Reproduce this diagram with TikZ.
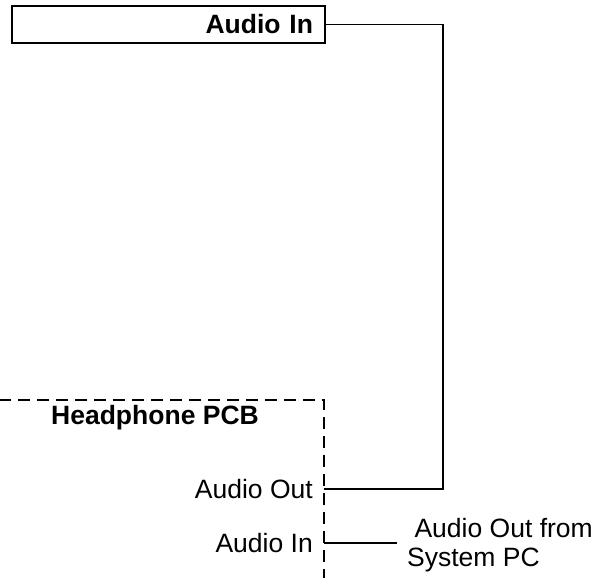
\documentclass[tikz,border=0pt]{standalone}
\usepackage{fontspec}
\setmainfont{Liberation Sans}
\usetikzlibrary{positioning}
\tikzset{
  wire/.style={line width=1.5pt},
  pcbedge/.style={line width=1.5pt, dash pattern=on 12pt off 7pt},
  boldtext/.style={font=\fontsize{26.5}{29}\selectfont\bfseries},
  blockbox/.style={draw, wire, boldtext, inner xsep=12pt, align=right},
  portlabel/.style={anchor=east, inner xsep=11pt, inner ysep=0pt},
}

\begin{document}
\begin{tikzpicture}[x=1pt, y=-1pt, font=\fontsize{26.5}{29}\selectfont]
  \useasboundingbox (0,0) rectangle (613,578);
  \node[blockbox, text width=289pt, minimum width=313pt, minimum height=37pt] (topin) at (168.5,24.5) {Audio In};
  % headphone board, cut off at the page edges
  \draw[pcbedge] (-20,400) -- (324,400) -- (324,600);
  \node[boldtext] (pcb) at (155,417.5) {Headphone PCB};
  \node[portlabel] (aout) at (324,489) {Audio Out};
  \node[portlabel] (ain) at (324,543) {Audio In};
  \node[anchor=west, align=left, inner xsep=10pt] (pcout) at (397,545) {\ Audio Out from\\System PC};
  \coordinate (bend) at (443,489);
  \draw[wire] (aout.east) -- (bend) |- (topin.east);
  \draw[wire] (ain.east) -- (ain.east -| pcout.west);
\end{tikzpicture}
\end{document}
